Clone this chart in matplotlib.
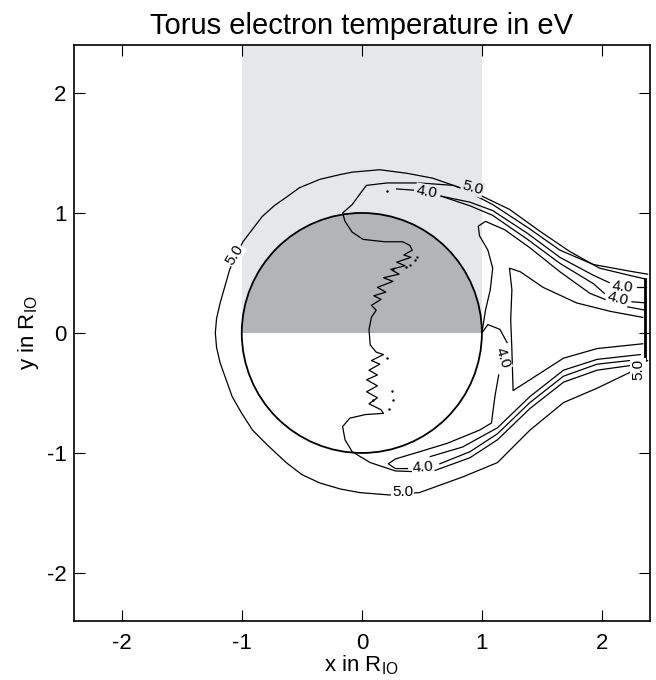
import numpy as np
import matplotlib
matplotlib.use("Agg")
import matplotlib.pyplot as plt
import matplotlib.patches as patches

plt.rcParams['font.family'] = ['Liberation Sans', 'DejaVu Sans']
plt.rcParams['mathtext.fontset'] = 'custom'
plt.rcParams['mathtext.rm'] = 'Liberation Sans'
plt.rcParams['axes.unicode_minus'] = False

# contour lines (x, y in R_IO)
# 5.0 outer contour, around Io and along the wake
c5_outer_x = [2.38, 2.26, 1.93, 1.65, 1.38, 1.09, 0.82, 0.59, 0.38, 0.15, -0.08, -0.18, -0.35,
              -0.52, -0.63, -0.73, -0.83, -0.99, -1.05, -1.10, -1.18, -1.21, -1.22, -1.21,
              -1.18, -1.13, -1.08, -1.00, -0.91, -0.78, -0.63, -0.50, -0.35, -0.18, -0.02,
              0.23, 0.48, 0.84, 1.13, 1.40, 1.68, 1.96, 2.23, 2.34, 2.38]
c5_outer_y = [0.49, 0.51, 0.57, 0.69, 0.88, 1.07, 1.21, 1.29, 1.33, 1.36, 1.34, 1.32, 1.28,
              1.21, 1.13, 1.06, 0.97, 0.76, 0.64, 0.53, 0.25, 0.12, 0.0, -0.12,
              -0.25, -0.39, -0.53, -0.67, -0.81, -0.94, -1.08, -1.18, -1.25, -1.30, -1.33,
              -1.35, -1.33, -1.20, -1.08, -0.81, -0.58, -0.46, -0.33, -0.25, -0.23]

# right boundary segment
edge_x = [2.36, 2.36]
edge_y = [0.45, -0.22]

# central 4.0 line: upper wake band -> through Io -> lower wake band
c4_mid_x = [2.36, 2.23, 1.98, 1.73, 1.48, 1.23, 0.98, 0.76, 0.48, 0.21, 0.04, 0.0, -0.08, -0.16,
            -0.14, -0.08, 0.01, 0.19, 0.34, 0.40, 0.42,
            0.35, 0.41, 0.29, 0.36, 0.24, 0.31, 0.18, 0.26, 0.13, 0.20, 0.10, 0.16, 0.08, 0.12,
            0.08, 0.06, 0.07, 0.12, 0.18,
            0.08, 0.15, 0.06, 0.13, 0.04, 0.13, 0.04, 0.13, 0.06, 0.16, 0.18,
            0.03, -0.10, -0.16, -0.14, -0.08, 0.07, 0.28, 0.57, 0.90, 1.13, 1.40, 1.68, 1.96, 2.32]
c4_mid_y = [0.45, 0.48, 0.54, 0.68, 0.85, 1.03, 1.15, 1.23, 1.25, 1.25, 1.23, 1.18, 1.07, 1.00,
            0.93, 0.84, 0.78, 0.76, 0.76, 0.73, 0.69,
            0.65, 0.63, 0.59, 0.56, 0.53, 0.49, 0.46, 0.43, 0.38, 0.34, 0.31, 0.28, 0.23, 0.19,
            0.13, 0.03, -0.10, -0.16, -0.18,
            -0.23, -0.26, -0.31, -0.35, -0.39, -0.44, -0.49, -0.54, -0.59, -0.64, -0.67,
            -0.68, -0.71, -0.78, -0.89, -0.99, -1.08, -1.15, -1.16, -1.04, -0.89, -0.63, -0.41,
            -0.31, -0.26]

# upper wake band, 4.0 lines (split where the labels sit)
c4_up1a_x = [0.29, 0.43]
c4_up1a_y = [1.20, 1.19]
c4_up1b_x = [0.66, 0.90, 1.09, 1.38, 1.65, 1.93, 2.06]
c4_up1b_y = [1.14, 1.09, 1.02, 0.83, 0.63, 0.48, 0.42]
c4_up1c_x = [2.29, 2.37]
c4_up1c_y = [0.38, 0.38]
c4_up2a_x = [0.66, 0.90, 1.09, 1.38, 1.65, 1.93, 2.02]
c4_up2a_y = [1.14, 1.06, 0.98, 0.78, 0.58, 0.41, 0.33]
c4_up2b_x = [2.25, 2.37]
c4_up2b_y = [0.26, 0.25]

# line leaving Io's right limb upward, then along the wake
c4_right_x = [1.00, 1.03, 1.07, 1.09, 1.05, 0.98, 0.97, 1.03, 1.19, 1.40, 1.65, 1.90, 2.15, 2.36]
c4_right_y = [0.0, 0.19, 0.36, 0.54, 0.69, 0.81, 0.89, 0.93, 0.86, 0.71, 0.51, 0.33, 0.23, 0.19]

# inner wake loop
wake_x = [2.34, 2.07, 1.79, 1.51, 1.32, 1.23, 1.25, 1.24, 1.25, 1.26, 1.40, 1.68, 1.96, 2.34]
wake_y = [0.13, 0.18, 0.25, 0.38, 0.51, 0.54, 0.36, 0.11, -0.14, -0.48, -0.39, -0.21, -0.13, -0.09]

# 4.0 loop right of Io, tongue, lower band
c4_low_a_x = [1.00, 1.05, 1.15, 1.21]
c4_low_a_y = [0.0, 0.07, 0.03, -0.08]
c4_low_b_x = [1.14, 1.11, 1.09, 1.08, 0.98, 0.71, 0.48, 0.28, 0.22, 0.28, 0.38]
c4_low_b_y = [-0.35, -0.52, -0.67, -0.75, -0.81, -0.92, -0.99, -1.05, -1.09, -1.13, -1.13]
c4_low_c_x = [0.65, 0.90, 1.13, 1.40, 1.68, 1.96, 2.32]
c4_low_c_y = [-1.09, -0.99, -0.84, -0.58, -0.36, -0.26, -0.22]
band_x = [0.57, 0.84, 1.13, 1.40, 1.68, 1.96, 2.32]
band_y = [-1.03, -0.95, -0.79, -0.53, -0.31, -0.22, -0.18]

# stray dots near the jagged line
dots_x = [0.46, 0.44, 0.40, 0.26, 0.37, 0.21, 0.25, 0.26, 0.23, 0.09, 0.21]
dots_y = [0.63, 0.61, 0.57, 0.53, 0.55, -0.21, -0.48, -0.56, -0.63, -0.56, 1.18]

# contour labels
lab_text = ['5.0', '5.0', '4.0', '5.0', '4.0', '4.0', '4.0', '4.0', '5.0']
lab_x = [-1.06, 0.92, 0.54, 0.34, 0.51, 1.17, 2.175, 2.13, 2.30]
lab_y = [0.65, 1.21, 1.175, -1.325, -1.12, -0.21, 0.385, 0.285, -0.30]
lab_rot = [58, -15, -10, 0, 4, -72, -5, -14, 90]
lab_bg = ['white', '#e6e7e9', '#e6e7e9', 'white', 'white', 'white', 'white', 'white', 'white']

fig = plt.figure(figsize=(6.56, 6.8), dpi=100)
ax = fig.add_axes([0.1123, 0.0868, 0.8785, 0.8471])

light = '#e6e7e9'
dark = '#b3b4b6'
ax.add_patch(patches.Rectangle((-1, 0), 2, 2.4, color=light, lw=0, zorder=0))
ax.add_patch(patches.Wedge((0, 0), 1, 0, 180, color=dark, lw=0, zorder=1))
ax.add_patch(patches.Circle((0, 0), 1, fill=False, ec='black', lw=1.3, zorder=3))

lines = [(c5_outer_x, c5_outer_y), (edge_x, edge_y), (c4_mid_x, c4_mid_y),
         (c4_up1a_x, c4_up1a_y), (c4_up1b_x, c4_up1b_y), (c4_up1c_x, c4_up1c_y),
         (c4_up2a_x, c4_up2a_y), (c4_up2b_x, c4_up2b_y), (c4_right_x, c4_right_y),
         (wake_x, wake_y), (c4_low_a_x, c4_low_a_y), (c4_low_b_x, c4_low_b_y),
         (c4_low_c_x, c4_low_c_y), (band_x, band_y)]
for lx, ly in lines:
    ax.plot(lx, ly, color='black', lw=0.9, zorder=2)
ax.plot(edge_x, edge_y, color='black', lw=2.0, zorder=2)
ax.plot(dots_x, dots_y, 'k.', ms=1.5, zorder=2)

for t, x, y, r, bg in zip(lab_text, lab_x, lab_y, lab_rot, lab_bg):
    ax.text(x, y, t, rotation=r, fontsize=11, ha='center', va='center', zorder=4,
            rotation_mode='anchor', bbox=dict(fc=bg, ec='none', pad=0.5))

ax.set_xlim(-2.4, 2.4)
ax.set_ylim(-2.4, 2.4)
ax.set_xticks([-2, -1, 0, 1, 2])
ax.set_yticks([-2, -1, 0, 1, 2])
ax.tick_params(direction='in', length=8, width=0.8, top=True, right=True, labelsize=16)
ax.tick_params(axis='x', pad=9)
ax.tick_params(axis='y', pad=5)
for s in ax.spines.values():
    s.set_linewidth(1.2)

ax.set_title('Torus electron temperature in eV', fontsize=21, pad=8)
ax.set_xlabel(r'x in R$_{\mathrm{IO}}$', fontsize=16, labelpad=-1)
ax.set_ylabel(r'y in R$_{\mathrm{IO}}$', fontsize=16, labelpad=4)

fig.savefig('out.png', dpi=100)
